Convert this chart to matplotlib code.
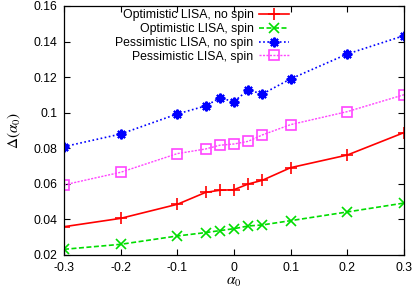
import numpy as np
import matplotlib
matplotlib.use("Agg")
import matplotlib.pyplot as plt

plt.rcParams['font.family'] = ['Liberation Sans', 'DejaVu Sans']
plt.rcParams['mathtext.fontset'] = 'stix'

# alpha_0 grid
alpha0 = [-0.3, -0.2, -0.1, -0.05, -0.025, 0.0, 0.025, 0.05, 0.1, 0.2, 0.3]

# Delta(alpha_0) for each configuration
opt_nospin = [0.0359, 0.0406, 0.0485, 0.0552, 0.0564, 0.0567, 0.0599, 0.0620, 0.0691, 0.0762, 0.0888]
opt_spin = [0.0232, 0.0260, 0.0307, 0.0326, 0.0337, 0.0348, 0.0363, 0.0369, 0.0393, 0.0442, 0.0492]
pes_nospin = [0.0809, 0.0880, 0.0993, 0.1038, 0.1083, 0.1062, 0.1128, 0.1105, 0.1190, 0.1330, 0.1433]
pes_spin = [0.0594, 0.0665, 0.0770, 0.0796, 0.0817, 0.0824, 0.0839, 0.0875, 0.0933, 0.1006, 0.1101]

labels = ['Optimistic LISA, no spin', 'Optimistic LISA, spin',
          'Pessimistic LISA, no spin', 'Pessimistic LISA, spin']

fig = plt.figure(figsize=(4.15, 2.93), dpi=100)
ax = fig.add_axes([0.1542, 0.1297, 0.8193, 0.85])

ax.plot(alpha0, opt_nospin, color='#ff0000', ls='-', lw=1.2,
        marker='+', ms=8, mew=1.2, label=labels[0])
ax.plot(alpha0, opt_spin, color='#00dd00', ls=(0, (3, 1.5)), lw=1.2,
        marker='x', ms=6.5, mew=1.2, label=labels[1])
ax.plot(alpha0, pes_nospin, color='#0000ff', ls=(0, (1, 1.5)), lw=1.2,
        marker=(8, 2, 0), ms=7, mew=1.5, label=labels[2])
ax.plot(alpha0, pes_spin, color='#ff44ff', ls=(0, (1.5, 1)), lw=1.0,
        marker='s', ms=6.5, mew=1.2, mfc='none', label=labels[3])

ax.set_xlim(-0.3, 0.3)
ax.set_ylim(0.02, 0.16)
ax.set_xticks([-0.3, -0.2, -0.1, 0, 0.1, 0.2, 0.3])
ax.set_xticklabels(['-0.3', '-0.2', '-0.1', '0', '0.1', '0.2', '0.3'])
ax.set_yticks([0.02, 0.04, 0.06, 0.08, 0.1, 0.12, 0.14, 0.16])
ax.set_yticklabels(['0.02', '0.04', '0.06', '0.08', '0.1', '0.12', '0.14', '0.16'])
ax.tick_params(direction='in', top=True, right=True, length=4, width=0.8,
               labelsize=8.8, pad=5)
for s in ax.spines.values():
    s.set_linewidth(0.9)

ax.set_xlabel(r'$\alpha_0$', fontsize=11, labelpad=1)
ax.set_ylabel(r'$\Delta(\alpha_0)$', fontsize=11, labelpad=7)

ax.legend(loc='upper right', bbox_to_anchor=(0.69, 1.025), frameon=False,
          markerfirst=False, fontsize=8.8, handlelength=2.4, handletextpad=0.5,
          labelspacing=0.14, borderpad=0.3)

fig.savefig('out.png', dpi=100)
